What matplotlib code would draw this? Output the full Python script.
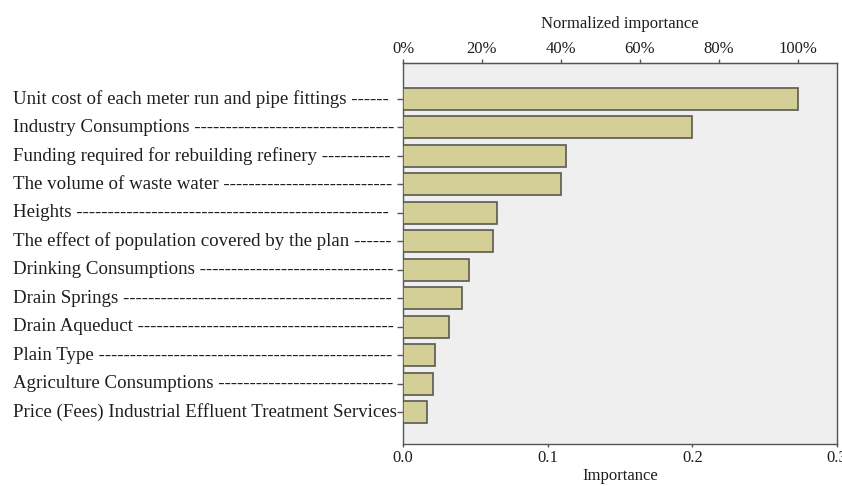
import numpy as np
import matplotlib
matplotlib.use("Agg")
import matplotlib.pyplot as plt
from matplotlib.transforms import blended_transform_factory

labels = [
    "Unit cost of each meter run and pipe fittings",
    "Industry Consumptions",
    "Funding required for rebuilding refinery",
    "The volume of waste water",
    "Heights",
    "The effect of population covered by the plan",
    "Drinking Consumptions",
    "Drain Springs",
    "Drain Aqueduct",
    "Plain Type",
    "Agriculture Consumptions",
    "Price (Fees) Industrial Effluent Treatment Services",
]
importance = [0.2727, 0.2000, 0.1130, 0.1095, 0.0649, 0.0625,
              0.0456, 0.0406, 0.0315, 0.0218, 0.0204, 0.0169]
x_ticks = [0.0, 0.1, 0.2, 0.3]
x_tick_labels = ["0.0", "0.1", "0.2", "0.3"]
pct_ticks = [0, 20, 40, 60, 80, 100]

plt.rcParams["font.family"] = ["Liberation Serif", "DejaVu Serif"]
TXT = "#1e1e1e"
W, H = 842, 486
fig = plt.figure(figsize=(W / 100, H / 100), dpi=100)
ax = fig.add_axes([403 / W, 1 - 444 / H, (837 - 403) / W, (444 - 63) / H])
ax.set_facecolor("#efefef")

n = len(labels)
y = np.arange(n)
ax.barh(y, importance, height=0.77, color="#d4cf96", edgecolor="#5a5a52", linewidth=1.2, zorder=3)
ax.set_ylim(n - 1 + 1.12, -1.25)
ax.set_xlim(0, 0.3)
ax.set_xticks(x_ticks)
ax.set_xticklabels(x_tick_labels, fontsize=12, color=TXT)
ax.set_xlabel("Importance", fontsize=12, color=TXT, labelpad=1.5)
ax.set_yticks(y)
ax.set_yticklabels([""] * n)
ax.tick_params(axis="y", length=4, width=1, color="#555555")
ax.tick_params(axis="x", length=2.5, width=1, color="#555555", pad=1.5)
for s in ax.spines.values():
    s.set_color("#555555")
    s.set_linewidth(1.0)

mx = max(importance)
sec = ax.secondary_xaxis("top", functions=(lambda v: v / mx * 100, lambda p: p * mx / 100))
sec.set_xticks(pct_ticks)
sec.set_xticklabels([f"{p}%" for p in pct_ticks], fontsize=12, color=TXT)
sec.tick_params(length=3, width=1, color="#555555", pad=1)
sec.spines["top"].set_color("#555555")
sec.set_xlabel("Normalized importance", fontsize=12, color=TXT, labelpad=10)

# labels with dash leaders
fig.canvas.draw()
r = fig.canvas.get_renderer()
tr = blended_transform_factory(fig.transFigure, ax.transData)
left_px, right_px = 13, 394
fs = 13.6
probe = fig.text(0, 0, "-" * 20, fontsize=fs)
dash_w = probe.get_window_extent(r).width / 20
probe.remove()
for yi, lab in zip(y, labels):
    t = ax.text(left_px / W, yi, lab, transform=tr, fontsize=fs, color=TXT,
                ha="left", va="center", clip_on=False)
    w = t.get_window_extent(r).width
    k = int((right_px - left_px - w - 4) / dash_w)
    if k > 0:
        t.set_text(lab + " " + "-" * k)

fig.savefig("out.png", dpi=100, facecolor="white")
